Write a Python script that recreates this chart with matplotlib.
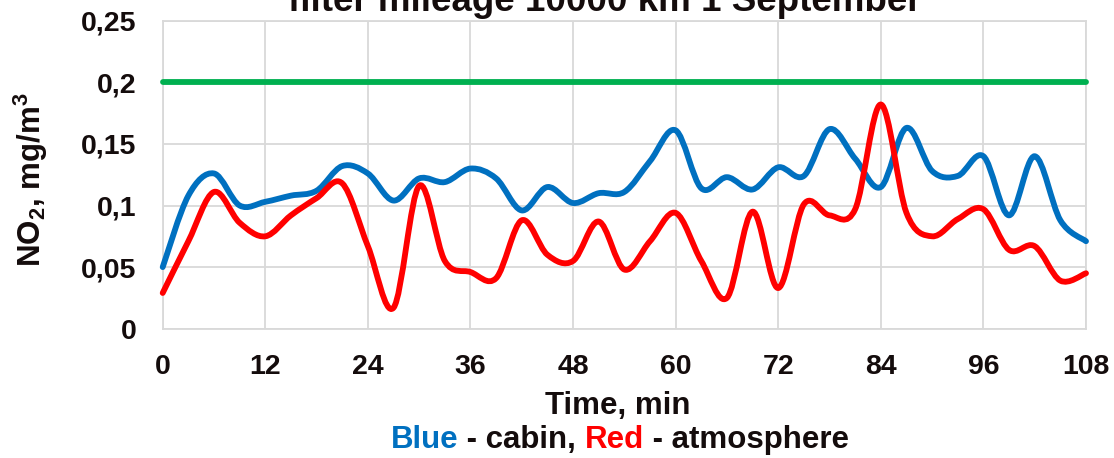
import numpy as np
import matplotlib
matplotlib.use("Agg")
import matplotlib.pyplot as plt
from matplotlib.path import Path
from matplotlib.patches import PathPatch
from matplotlib.ticker import FuncFormatter, MultipleLocator

plt.rcParams['font.family'] = ['Liberation Sans', 'DejaVu Sans']
plt.rcParams['font.weight'] = 'bold'
plt.rcParams['mathtext.fontset'] = 'custom'
plt.rcParams['mathtext.rm'] = 'Liberation Sans:bold'
plt.rcParams['mathtext.bf'] = 'Liberation Sans:bold'
plt.rcParams['mathtext.default'] = 'bf'

# measurements every 3 minutes
time_min = list(range(0, 109, 3))
cabin = [0.050, 0.108, 0.126, 0.100, 0.103, 0.108, 0.112, 0.132, 0.126, 0.104,
         0.122, 0.119, 0.130, 0.122, 0.096, 0.115, 0.102, 0.110, 0.111, 0.136,
         0.161, 0.114, 0.123, 0.113, 0.131, 0.124, 0.162, 0.138, 0.115, 0.163,
         0.128, 0.124, 0.140, 0.092, 0.140, 0.088, 0.071]
atmosphere = [0.029, 0.071, 0.111, 0.086, 0.075, 0.092, 0.106, 0.118, 0.067, 0.017,
              0.116, 0.055, 0.046, 0.041, 0.088, 0.060, 0.055, 0.087, 0.048, 0.071,
              0.094, 0.055, 0.025, 0.095, 0.033, 0.101, 0.092, 0.097, 0.182, 0.094,
              0.075, 0.089, 0.097, 0.064, 0.067, 0.039, 0.045]
limit = 0.2

BLUE = '#0070C0'
RED = '#FF0000'
GREEN = '#00B050'
INK = '#140c0c'


def smooth_path(x, y):
    # Bezier segments like a spreadsheet "smoothed line"
    pts = np.column_stack([x, y]).astype(float)
    n = len(pts)
    verts = [pts[0]]
    codes = [Path.MOVETO]
    for i in range(n - 1):
        p0 = pts[max(i - 1, 0)]
        p1 = pts[i]
        p2 = pts[i + 1]
        p3 = pts[min(i + 2, n - 1)]
        verts += [p1 + (p2 - p0) / 6, p2 - (p3 - p1) / 6, p2]
        codes += [Path.CURVE4] * 3
    return Path(verts, codes)


fig = plt.figure(figsize=(11.14, 4.58), dpi=100)
ax = fig.add_axes([162.7 / 1114, 1 - 328.7 / 458, (1086 - 162.7) / 1114, (328.7 - 20.7) / 458])

ax.plot([time_min[0], time_min[-1]], [limit, limit], color=GREEN, lw=4.2,
        solid_capstyle='round', clip_on=False, zorder=3)
for series, color in [(cabin, BLUE), (atmosphere, RED)]:
    ax.add_patch(PathPatch(smooth_path(time_min, series), fill=False, edgecolor=color,
                           lw=4.2, capstyle='round', joinstyle='round',
                           clip_on=False, zorder=4))

ax.set_xlim(0, 108)
ax.set_ylim(0, 0.25)
ax.xaxis.set_major_locator(MultipleLocator(12))
ax.yaxis.set_major_locator(MultipleLocator(0.05))
ax.yaxis.set_major_formatter(FuncFormatter(lambda v, p: ('%g' % round(v, 3)).replace('.', ',')))
ax.grid(True, color='#d9d9d9', lw=1.3)
ax.set_axisbelow(True)
for s in ax.spines.values():
    s.set_color('#d9d9d9')
    s.set_linewidth(1.3)
ax.tick_params(length=0, labelsize=20.5, colors=INK)
ax.tick_params(axis='y', pad=19)
ax.tick_params(axis='x', pad=18)

fig.text(31 / 1114, 1 - 180 / 458, 'NO$_2$, mg/m$^3$', rotation=90, ha='center', va='center',
         fontsize=22.5, color=INK)

fig.text(605 / 1114, 1 - 10.7 / 458, 'filter mileage 10000 km 1 September',
         ha='center', va='baseline', fontsize=26.5, color=INK)
fig.text(618 / 1114, 1 - 414 / 458, 'Time, min', ha='center', va='baseline',
         fontsize=22.5, color=INK)

# colored caption under the axis title
parts = [('Blue', BLUE), (' - cabin, ', INK), ('Red', RED), (' - atmosphere', INK)]
fig.canvas.draw()
renderer = fig.canvas.get_renderer()
texts = [fig.text(0, 1 - 448 / 458, s, color=c, fontsize=22.5, va='baseline') for s, c in parts]
widths = [t.get_window_extent(renderer).width for t in texts]
x0 = 620 - sum(widths) / 2
for t, w in zip(texts, widths):
    t.set_x(x0 / 1114)
    x0 += w

fig.savefig('out.png', dpi=100)
